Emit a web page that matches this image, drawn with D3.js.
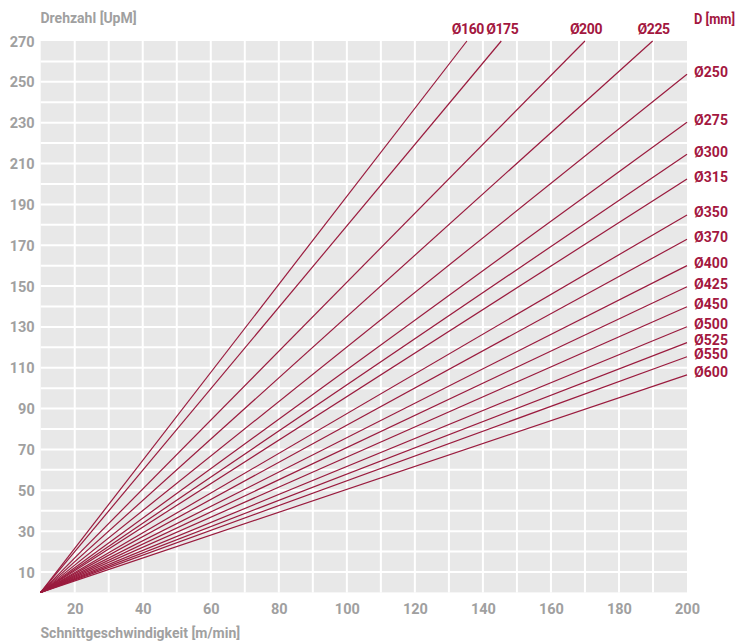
<!DOCTYPE html>
<html><head><meta charset="utf-8">
<script src="https://cdn.jsdelivr.net/npm/d3@7"></script>
<style>body{margin:0;background:#fff}svg{display:block}</style>
</head><body>
<script>
// Data
const diameters = [160,175,200,225,250,275,300,315,350,370,400,425,450,500,525,550,600];
// end point of each line: cutting speed [m/min] and rpm
const endSpeed = [135.3,145.4,170.0,189.9,200,200,200,200,200,200,200,200,200,200,200,200,200];
const endRpm   = [270,270,270,270,253.7,230.2,214.5,202.4,184.8,172.9,160.0,149.7,139.9,130.1,122.3,115.4,106.5];
const xTicks = [20,40,60,80,100,120,140,160,180,200];
const yTicks = [10,30,50,70,90,110,130,150,170,190,210,230,250,270];
const startSpeed = 10, startRpm = 0;

const W = 738, H = 641;
const m = {l:40.7, r:687, t:41, b:592.4};
const svg = d3.select("body").append("svg").attr("width",W).attr("height",H);
const x = d3.scaleLinear().domain([10,200]).range([m.l,m.r]);
const y = d3.scaleLinear().domain([0,270]).range([m.b,m.t]);
const font = "Roboto, 'Liberation Sans', sans-serif";
const red = "#a3173f", lineRed = "#9a1b3e", gray = "#a0a0a0";

svg.append("rect").attr("x",m.l).attr("y",m.t).attr("width",m.r-m.l).attr("height",m.b-m.t).attr("fill","#e8e8e8");
const g = svg.append("g");
d3.range(20,200,10).forEach(v=>{
  g.append("line").attr("x1",x(v)).attr("x2",x(v)).attr("y1",m.t).attr("y2",m.b).attr("stroke","#fff").attr("stroke-width",2);
});
d3.range(10,270,10).forEach(v=>{
  g.append("line").attr("y1",y(v)).attr("y2",y(v)).attr("x1",m.l).attr("x2",m.r).attr("stroke","#fff").attr("stroke-width",2);
});

const xAxis = svg.append("g").attr("transform",`translate(0,${m.b})`)
  .call(d3.axisBottom(x).tickValues(xTicks).tickSize(0).tickPadding(9));
const yAxis = svg.append("g").attr("transform",`translate(${m.l},0)`)
  .call(d3.axisLeft(y).tickValues(yTicks).tickSize(0).tickPadding(6));
[xAxis,yAxis].forEach(a=>{
  a.select(".domain").remove();
  a.selectAll("text").attr("fill",gray).attr("font-family",font).attr("font-weight","bold").attr("font-size",14.5);
});
xAxis.selectAll("text").attr("dy","0.9em");
yAxis.selectAll("text").attr("dy","0.35em");

svg.append("text").attr("x",40.5).attr("y",23).text("Drehzahl [UpM]")
  .attr("fill",gray).attr("font-family",font).attr("font-weight","bold").attr("font-size",14);
svg.append("text").attr("x",40.5).attr("y",638).text("Schnittgeschwindigkeit [m/min]")
  .attr("fill",gray).attr("font-family",font).attr("font-weight","bold").attr("font-size",14);

// lines
diameters.forEach((d,i)=>{
  svg.append("line").attr("x1",x(startSpeed)).attr("y1",y(startRpm))
    .attr("x2",x(endSpeed[i])).attr("y2",y(endRpm[i]))
    .attr("stroke",lineRed).attr("stroke-width",1.2);
  const top = endRpm[i] >= 270;
  const t = svg.append("text").text("Ø"+d).attr("fill",red).attr("font-family",font)
    .attr("font-weight","bold");
  if (top) {
    t.attr("x",x(endSpeed[i])+1).attr("y",y(endRpm[i])-7).attr("text-anchor","middle")
     .attr("font-size",14).attr("letter-spacing",-0.4);
  } else {
    t.attr("x",694).attr("y",y(endRpm[i])+2.5).attr("font-size",14).attr("letter-spacing",0.1);
  }
});
svg.append("text").attr("x",694).attr("y",24).text("D [mm]").attr("fill",red)
  .attr("font-family",font).attr("font-weight","bold").attr("font-size",14)
  .attr("textLength",41).attr("lengthAdjust","spacingAndGlyphs");
</script>
</body></html>
